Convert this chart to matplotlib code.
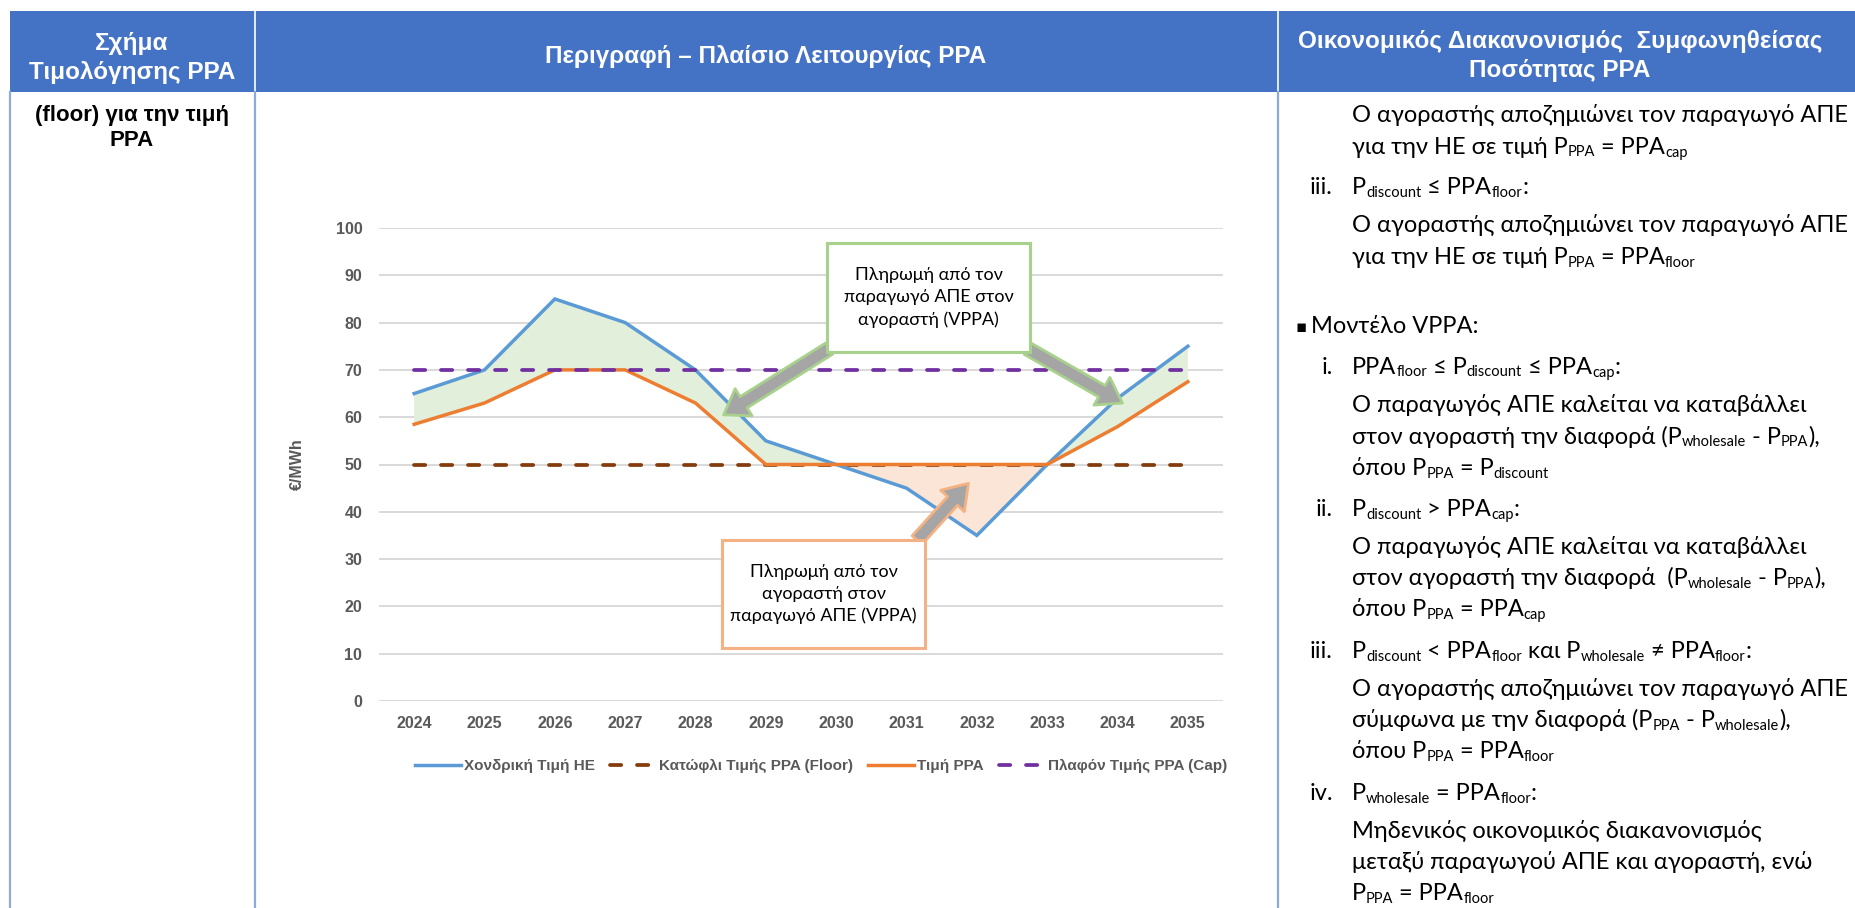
import re
import matplotlib
matplotlib.use('Agg')
import matplotlib.pyplot as plt
from matplotlib.patches import Rectangle, FancyArrowPatch
from matplotlib.lines import Line2D

plt.rcParams['font.family'] = ['Lato', 'DejaVu Sans']
BOLD = ['Liberation Sans', 'DejaVu Sans']

# ---- chart data ----
years = ['2024', '2025', '2026', '2027', '2028', '2029',
         '2030', '2031', '2032', '2033', '2034', '2035']
wholesale = [65, 70, 85, 80, 70, 55, 50, 45, 35, 50, 64, 75]
ppa_price = [58.5, 63, 70, 70, 63, 50, 50, 50, 50, 50, 58, 67.5]
ppa_floor = [50, 50, 50, 50, 50, 50, 50, 50, 50, 50, 50, 50]
ppa_cap = [70, 70, 70, 70, 70, 70, 70, 70, 70, 70, 70, 70]
series_labels = ['Χονδρική Τιμή ΗΕ', 'Κατώφλι Τιμής PPA (Floor)',
                 'Τιμή PPA', 'Πλαφόν Τιμής PPA (Cap)']
yticks = [0, 10, 20, 30, 40, 50, 60, 70, 80, 90, 100]

# ---- table text ----
header_col1 = 'Σχήμα\nΤιμολόγησης PPA'
header_col2 = 'Περιγραφή – Πλαίσιο Λειτουργίας PPA'
header_col3 = 'Οικονομικός Διακανονισμός  Συμφωνηθείσας\nΠοσότητας PPA'
left_body = '(floor) για την τιμή\nPPA'
green_note = 'Πληρωμή από τον\nπαραγωγό ΑΠΕ στον\nαγοραστή (VPPA)'
orange_note = 'Πληρωμή από τον\nαγοραστή στον\nπαραγωγό ΑΠΕ (VPPA)'

# (kind, marker, text) ; _{..} marks subscript
right_lines = [
    ('body', '', 'Ο αγοραστής αποζημιώνει τον παραγωγό ΑΠΕ'),
    ('body', '', 'για την ΗΕ σε τιμή P_{PPA} = PPA_{cap}'),
    ('item', 'iii.', 'P_{discount} ≤ PPA_{floor}:'),
    ('body', '', 'Ο αγοραστής αποζημιώνει τον παραγωγό ΑΠΕ'),
    ('body', '', 'για την ΗΕ σε τιμή P_{PPA} = PPA_{floor}'),
    ('bullet', '▪', 'Μοντέλο VPPA:'),
    ('item', 'i.', 'PPA_{floor} ≤ P_{discount} ≤ PPA_{cap}:'),
    ('body', '', 'Ο παραγωγός ΑΠΕ καλείται να καταβάλλει'),
    ('body', '', 'στον αγοραστή την διαφορά (P_{wholesale} - P_{PPA}),'),
    ('body', '', 'όπου P_{PPA} = P_{discount}'),
    ('item', 'ii.', 'P_{discount} > PPA_{cap}:'),
    ('body', '', 'Ο παραγωγός ΑΠΕ καλείται να καταβάλλει'),
    ('body', '', 'στον αγοραστή την διαφορά  (P_{wholesale} - P_{PPA}),'),
    ('body', '', 'όπου P_{PPA} = PPA_{cap}'),
    ('item', 'iii.', 'P_{discount} < PPA_{floor} και P_{wholesale} ≠ PPA_{floor}:'),
    ('body', '', 'Ο αγοραστής αποζημιώνει τον παραγωγό ΑΠΕ'),
    ('body', '', 'σύμφωνα με την διαφορά (P_{PPA} - P_{wholesale}),'),
    ('body', '', 'όπου P_{PPA} = PPA_{floor}'),
    ('item', 'iv.', 'P_{wholesale} = PPA_{floor}:'),
    ('body', '', 'Μηδενικός οικονομικός διακανονισμός'),
    ('body', '', 'μεταξύ παραγωγού ΑΠΕ και αγοραστή, ενώ'),
    ('body', '', 'P_{PPA} = PPA_{floor}'),
]
right_y = [115, 146.5, 187, 225.5, 257, 326, 366.5, 405, 436.5, 468, 509,
           547, 578, 609, 651, 689, 720, 751, 793, 831, 862, 893]

W, H = 1856, 908
fig = plt.figure(figsize=(W / 100, H / 100), dpi=100)
fig.patch.set_facecolor('white')

# background axes in pixel coordinates (y down) for the table
bg = fig.add_axes([0, 0, 1, 1])
bg.set_xlim(0, W)
bg.set_ylim(H, 0)
bg.axis('off')

border = '#8EAADB'
bg.add_patch(Rectangle((10, 11), W - 10, 81, facecolor='#4472C4', edgecolor='none'))
for xx in (255, 1278):
    bg.plot([xx, xx], [11, 92], color='white', lw=1.2)
for xx in (10, 255, 1278):
    bg.plot([xx, xx], [92, H], color=border, lw=1.6)

bg.text(132, 58, header_col1, ha='center', va='center', color='white',
        fontsize=17.5, fontweight='bold', family=BOLD, linespacing=1.28)
bg.text(766, 56, header_col2, ha='center', va='center', color='white',
        fontsize=17.5, fontweight='bold', family=BOLD)
bg.text(1560, 56, header_col3, ha='center', va='center', color='white',
        fontsize=17.5, fontweight='bold', family=BOLD, linespacing=1.28)
bg.text(132, 128, left_body, ha='center', va='center', color='black',
        fontsize=16, fontweight='bold', family=BOLD, linespacing=1.22)

renderer = fig.canvas.get_renderer()
_space = {}


def space_w(fs):
    if fs not in _space:
        a = bg.text(0, 0, 'x x', fontsize=fs)
        b = bg.text(0, 0, 'xx', fontsize=fs)
        _space[fs] = (a.get_window_extent(renderer).width
                      - b.get_window_extent(renderer).width)
        a.remove()
        b.remove()
    return _space[fs]


def rich(x, y, s, size, color='black'):
    cur = x
    for p in re.split(r'(_\{[^}]*\})', s):
        if not p:
            continue
        sub = p.startswith('_{')
        txt = p[2:-1] if sub else p
        fs = size * 0.62 if sub else size
        lead = len(txt) - len(txt.lstrip(' '))
        trail = len(txt) - len(txt.rstrip(' '))
        core = txt.strip(' ')
        cur += lead * space_w(fs)
        if core:
            t = bg.text(cur, y + (3 if sub else 0), core, fontsize=fs,
                        va='baseline', ha='left', color=color)
            cur += t.get_window_extent(renderer).width
        cur += trail * space_w(fs)


body_size = 17
for (kind, marker, text), yc in zip(right_lines, right_y):
    base = yc + 7
    if kind == 'bullet':
        bg.text(1296, base - 1, marker, fontsize=12, va='baseline', ha='left',
                family=['DejaVu Sans'])
        rich(1311, base, text, body_size)
    elif kind == 'item':
        bg.text(1333, base, marker, fontsize=body_size, va='baseline', ha='right')
        rich(1352, base, text, body_size)
    else:
        rich(1352, base, text, body_size)

# ---- chart ----
ax = fig.add_axes([379 / W, 1 - 701 / H, 844 / W, 473 / H])
ax.patch.set_alpha(0)
x = list(range(len(years)))

ax.set_xlim(-0.5, len(years) - 0.5)
ax.set_ylim(0, 100)
ax.set_yticks(yticks)
ax.set_xticks(x)
ax.set_xticklabels(years)
ax.grid(axis='y', color='#D9D9D9', lw=1.4)
ax.set_axisbelow(True)
for sp in ax.spines.values():
    sp.set_visible(False)
ax.tick_params(length=0, colors='#595959', labelsize=11.5)
ax.tick_params(axis='y', pad=12)
ax.tick_params(axis='x', pad=11)
for lab in ax.get_xticklabels() + ax.get_yticklabels():
    lab.set_fontweight('bold')
    lab.set_fontfamily(BOLD)
ax.set_ylabel('€/MWh', color='#595959', fontsize=11.5, fontweight='bold', family=BOLD)
ax.yaxis.set_label_coords(-74 / 844, 0.5)

green_fill = '#E2EFDA'
orange_fill = '#FBE5D6'
above = [w >= p for w, p in zip(wholesale, ppa_price)]
below = [w <= p for w, p in zip(wholesale, ppa_price)]
ax.fill_between(x, wholesale, ppa_price, where=above, interpolate=True,
                color=green_fill, lw=0, zorder=1)
ax.fill_between(x, wholesale, ppa_price, where=below, interpolate=True,
                color=orange_fill, lw=0, zorder=1)

dash = (0, (3.0, 4.2))
c_blue, c_brown, c_orange, c_purple = '#5B9BD5', '#843C0C', '#ED7D31', '#7030A0'
ax.plot(x, ppa_floor, color=c_brown, lw=2.7, linestyle=dash,
        dash_capstyle='round', zorder=2)
ax.plot(x, wholesale, color=c_blue, lw=2.5, zorder=3, solid_joinstyle='miter')
ax.plot(x, ppa_price, color=c_orange, lw=2.5, zorder=4, solid_joinstyle='miter')
ax.plot(x, ppa_cap, color=c_purple, lw=2.7, linestyle=dash,
        dash_capstyle='round', zorder=5)

handles = [
    Line2D([], [], color=c_blue, lw=2.5),
    Line2D([], [], color=c_brown, lw=2.7, linestyle=dash, dash_capstyle='round'),
    Line2D([], [], color=c_orange, lw=2.5),
    Line2D([], [], color=c_purple, lw=2.7, linestyle=dash, dash_capstyle='round'),
]
ax.legend(handles, series_labels, loc='center', bbox_to_anchor=(0.524, -0.137),
          ncol=4, frameon=False, handlelength=3.0, handletextpad=0.2,
          columnspacing=1.0, labelcolor='#595959',
          prop={'size': 11, 'weight': 'bold', 'family': BOLD})

# ---- callouts ----
def callout(x0, y0, x1, y1, text, edge):
    ax.add_patch(Rectangle((x0, y0), x1 - x0, y1 - y0, facecolor='white',
                           edgecolor=edge, lw=2.2, zorder=8, clip_on=False))
    ax.text((x0 + x1) / 2, (y0 + y1) / 2, text, ha='center', va='center',
            fontsize=13, linespacing=1.45, zorder=9, color='black')


def block_arrow(tail, tip, edge):
    ax.add_patch(FancyArrowPatch(tail, tip,
                                 arrowstyle='simple,head_length=1.7,head_width=2.3,tail_width=0.95',
                                 mutation_scale=10, facecolor='#A5A5A5', edgecolor=edge,
                                 lw=2.0, shrinkA=0, shrinkB=0, zorder=7, clip_on=False))


green_edge = '#A9D18E'
orange_edge = '#F4B183'
block_arrow((5.9, 74.5), (4.4, 60.5), green_edge)
block_arrow((8.72, 74.5), (10.07, 63.0), green_edge)
block_arrow((7.15, 34.0), (7.88, 46.0), orange_edge)
callout(5.87, 73.8, 8.76, 96.8, green_note, green_edge)
callout(4.38, 11.2, 7.26, 34.0, orange_note, orange_edge)

fig.savefig('out.png', dpi=100)
